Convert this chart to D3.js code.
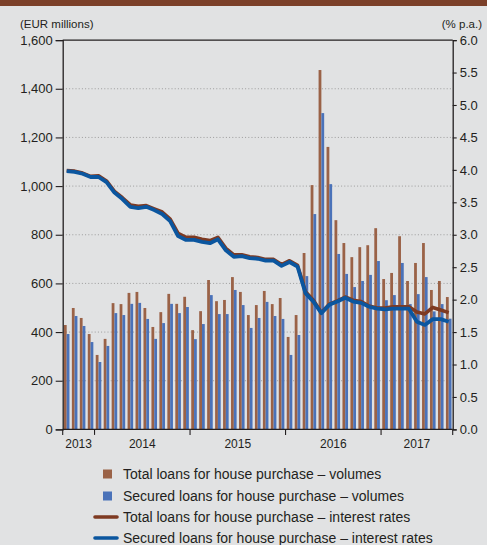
<!DOCTYPE html>
<html>
<head>
<meta charset="utf-8">
<script src="https://cdn.jsdelivr.net/npm/d3@7/dist/d3.min.js"></script>
<style>
  html, body { margin: 0; padding: 0; background: #e1e2e3; }
  svg { display: block; font-family: "Liberation Sans", Arial, sans-serif; }
</style>
</head>
<body>
<svg id="chart" width="487" height="545"></svg>
<script>
// Monthly observations, September 2013 – September 2017
const months = [
  "2013-09","2013-10","2013-11","2013-12",
  "2014-01","2014-02","2014-03","2014-04","2014-05","2014-06","2014-07","2014-08","2014-09","2014-10","2014-11","2014-12",
  "2015-01","2015-02","2015-03","2015-04","2015-05","2015-06","2015-07","2015-08","2015-09","2015-10","2015-11","2015-12",
  "2016-01","2016-02","2016-03","2016-04","2016-05","2016-06","2016-07","2016-08","2016-09","2016-10","2016-11","2016-12",
  "2017-01","2017-02","2017-03","2017-04","2017-05","2017-06","2017-07","2017-08","2017-09"
];

// New business volumes (EUR millions)
const totalVolumes = [
  429,499,458,392,
  306,372,519,515,561,565,499,421,482,557,516,545,
  408,486,614,527,532,626,565,470,511,569,515,540,
  380,470,725,1004,1477,1161,860,766,708,749,757,827,
  618,643,794,610,684,766,573,610,544
];
const securedVolumes = [
  392,466,425,359,
  277,343,478,470,516,520,454,372,437,516,478,503,
  371,433,552,474,474,573,511,417,458,524,466,454,
  306,388,630,885,1300,1008,721,639,585,610,635,692,
  531,552,684,515,556,626,485,515,455
];

// Interest rates (% p.a.)
const totalRates = [
  3.99,3.98,3.95,3.90,
  3.91,3.83,3.67,3.57,3.46,3.44,3.45,3.40,3.35,3.24,3.02,2.96,
  2.96,2.93,2.91,2.96,2.79,2.69,2.69,2.66,2.65,2.62,2.62,2.54,
  2.60,2.53,2.12,1.99,1.80,1.93,1.98,2.04,1.99,1.97,1.90,1.87,
  1.87,1.89,1.89,1.89,1.81,1.78,1.88,1.84,1.80
];
const securedRates = [
  3.98,3.97,3.94,3.89,
  3.89,3.81,3.65,3.55,3.43,3.41,3.43,3.38,3.32,3.21,2.98,2.92,
  2.92,2.89,2.87,2.93,2.76,2.66,2.67,2.64,2.63,2.60,2.60,2.52,
  2.58,2.51,2.10,1.97,1.79,1.92,1.97,2.03,1.97,1.95,1.89,1.86,
  1.85,1.86,1.86,1.86,1.66,1.61,1.70,1.70,1.66
];

const volumeTicks = [0,200,400,600,800,1000,1200,1400,1600];
const rateTicks = [0,0.5,1,1.5,2,2.5,3,3.5,4,4.5,5,5.5,6];
const years = ["2013","2014","2015","2016","2017"];

const legendItems = [
  {label: "Total loans for house purchase – volumes", kind: "bar", key: "total"},
  {label: "Secured loans for house purchase – volumes", kind: "bar", key: "secured"},
  {label: "Total loans for house purchase – interest rates", kind: "line", key: "total"},
  {label: "Secured loans for house purchase – interest rates", kind: "line", key: "secured"}
];

const colors = {
  barTotal: "#9a6247",
  barSecured: "#4a72b9",
  lineTotal: "#7e3a22",
  lineSecured: "#0b569f",
  axis: "#231f20",
  grid: "#9c9c9c",
  band: "#7b4029",
  text: "#231f20"
};

const svg = d3.select("#chart");
const W = 487, H = 545;
const plot = {left: 62.7, right: 452.7, top: 40.1, bottom: 429.4};

// background and top band
svg.append("rect").attr("width", W).attr("height", H).attr("fill", "#e1e2e3");
svg.append("rect").attr("width", W).attr("height", 6).attr("fill", colors.band);

const x = d3.scaleBand()
  .domain(months)
  .range([plot.left, plot.right])
  .paddingInner(0.3)
  .paddingOuter(0.15);
const xSub = d3.scaleBand()
  .domain(["total", "secured"])
  .range([0, x.bandwidth()]);

const yLeft = d3.scaleLinear().domain([0, 1600]).range([plot.bottom, plot.top]);
const yRight = d3.scaleLinear().domain([0, 6]).range([plot.bottom, plot.top]);

// dotted gridlines
svg.append("g")
  .selectAll("line")
  .data(volumeTicks.filter(v => v > 0 && v < 1600))
  .join("line")
  .attr("x1", plot.left).attr("x2", plot.right)
  .attr("y1", d => yLeft(d)).attr("y2", d => yLeft(d))
  .attr("stroke", colors.grid)
  .attr("stroke-width", 1)
  .attr("stroke-dasharray", "1,2.2");

// bars
const barData = months.map((m, i) => ({m, total: totalVolumes[i], secured: securedVolumes[i]}));
const groups = svg.append("g")
  .selectAll("g")
  .data(barData)
  .join("g")
  .attr("transform", d => `translate(${x(d.m)},0)`);
groups.selectAll("rect")
  .data(d => [{k: "total", v: d.total}, {k: "secured", v: d.secured}])
  .join("rect")
  .attr("x", d => xSub(d.k))
  .attr("width", xSub.bandwidth())
  .attr("y", d => yLeft(d.v))
  .attr("height", d => yLeft(0) - yLeft(d.v))
  .attr("fill", d => d.k === "total" ? colors.barTotal : colors.barSecured);

// rate lines
const line = d3.line()
  .x((d, i) => x(months[i]) + x.bandwidth() / 2)
  .y(d => yRight(d));
svg.append("path")
  .attr("d", line(totalRates))
  .attr("fill", "none")
  .attr("stroke", colors.lineTotal)
  .attr("stroke-width", 3.6)
  .attr("stroke-linejoin", "round");
svg.append("path")
  .attr("d", line(securedRates))
  .attr("fill", "none")
  .attr("stroke", colors.lineSecured)
  .attr("stroke-width", 3.8)
  .attr("stroke-linejoin", "round");

// left axis
const leftAxis = d3.axisLeft(yLeft)
  .tickValues(volumeTicks)
  .tickFormat(d3.format(","))
  .tickSize(7)
  .tickPadding(3);
const gl = svg.append("g").attr("transform", `translate(${plot.left},0)`).call(leftAxis);

// right axis
const rightAxis = d3.axisRight(yRight)
  .tickValues(rateTicks)
  .tickFormat(d3.format(".1f"))
  .tickSize(4)
  .tickPadding(3);
const gr = svg.append("g").attr("transform", `translate(${plot.right},0)`).call(rightAxis);

[gl, gr].forEach(g => {
  g.select(".domain").attr("stroke", colors.axis).attr("stroke-width", 1.3);
  g.selectAll(".tick line").attr("stroke", colors.axis).attr("stroke-width", 1.1);
  g.selectAll(".tick text").attr("fill", colors.text).attr("font-size", 13)
    .attr("font-family", "'Liberation Sans', Arial, sans-serif");
});

// top frame and baseline
svg.append("line")
  .attr("x1", plot.left).attr("x2", plot.right)
  .attr("y1", yLeft(1600)).attr("y2", yLeft(1600))
  .attr("stroke", colors.axis).attr("stroke-width", 1.2);
svg.append("line")
  .attr("x1", plot.left).attr("x2", plot.right)
  .attr("y1", yLeft(0)).attr("y2", yLeft(0))
  .attr("stroke", colors.axis).attr("stroke-width", 1.4);

// year boundary ticks and labels
const yearStarts = years.map(y => months.findIndex(m => m.startsWith(y)));
const step = x.step();
const edge = i => plot.left + i * step;
const boundaries = yearStarts.map(i => edge(i)).concat([plot.right]);
boundaries[0] = plot.left;
svg.append("g")
  .selectAll("line")
  .data(boundaries)
  .join("line")
  .attr("x1", d => d).attr("x2", d => d)
  .attr("y1", plot.bottom).attr("y2", plot.bottom + 5.5)
  .attr("stroke", colors.axis).attr("stroke-width", 1.1);
svg.append("g")
  .selectAll("text")
  .data(years)
  .join("text")
  .attr("x", (d, i) => (boundaries[i] + boundaries[i + 1]) / 2)
  .attr("y", plot.bottom + 19)
  .attr("text-anchor", "middle")
  .attr("font-size", 12)
  .attr("fill", colors.text)
  .text(d => d);

// unit labels
svg.append("text")
  .attr("x", 20).attr("y", 28)
  .attr("font-size", 11.5)
  .attr("fill", colors.text)
  .text("(EUR millions)");
svg.append("text")
  .attr("x", 482).attr("y", 28)
  .attr("text-anchor", "end")
  .attr("font-size", 11.5)
  .attr("fill", colors.text)
  .text("(% p.a.)");

// legend
const legend = svg.append("g");
const rowY = [474, 496, 517, 538];
legendItems.forEach((item, i) => {
  const yy = rowY[i];
  if (item.kind === "bar") {
    legend.append("rect")
      .attr("x", 103).attr("y", yy - 4.5)
      .attr("width", 9).attr("height", 9)
      .attr("fill", item.key === "total" ? colors.barTotal : colors.barSecured);
  } else {
    legend.append("line")
      .attr("x1", 95).attr("x2", 117)
      .attr("y1", yy).attr("y2", yy)
      .attr("stroke", item.key === "total" ? colors.lineTotal : colors.lineSecured)
      .attr("stroke-width", 3.6)
      .attr("stroke-linecap", "round");
  }
  legend.append("text")
    .attr("x", 123).attr("y", yy + 5)
    .attr("font-size", 14)
    .attr("fill", colors.text)
    .text(item.label);
});
</script>
</body>
</html>
